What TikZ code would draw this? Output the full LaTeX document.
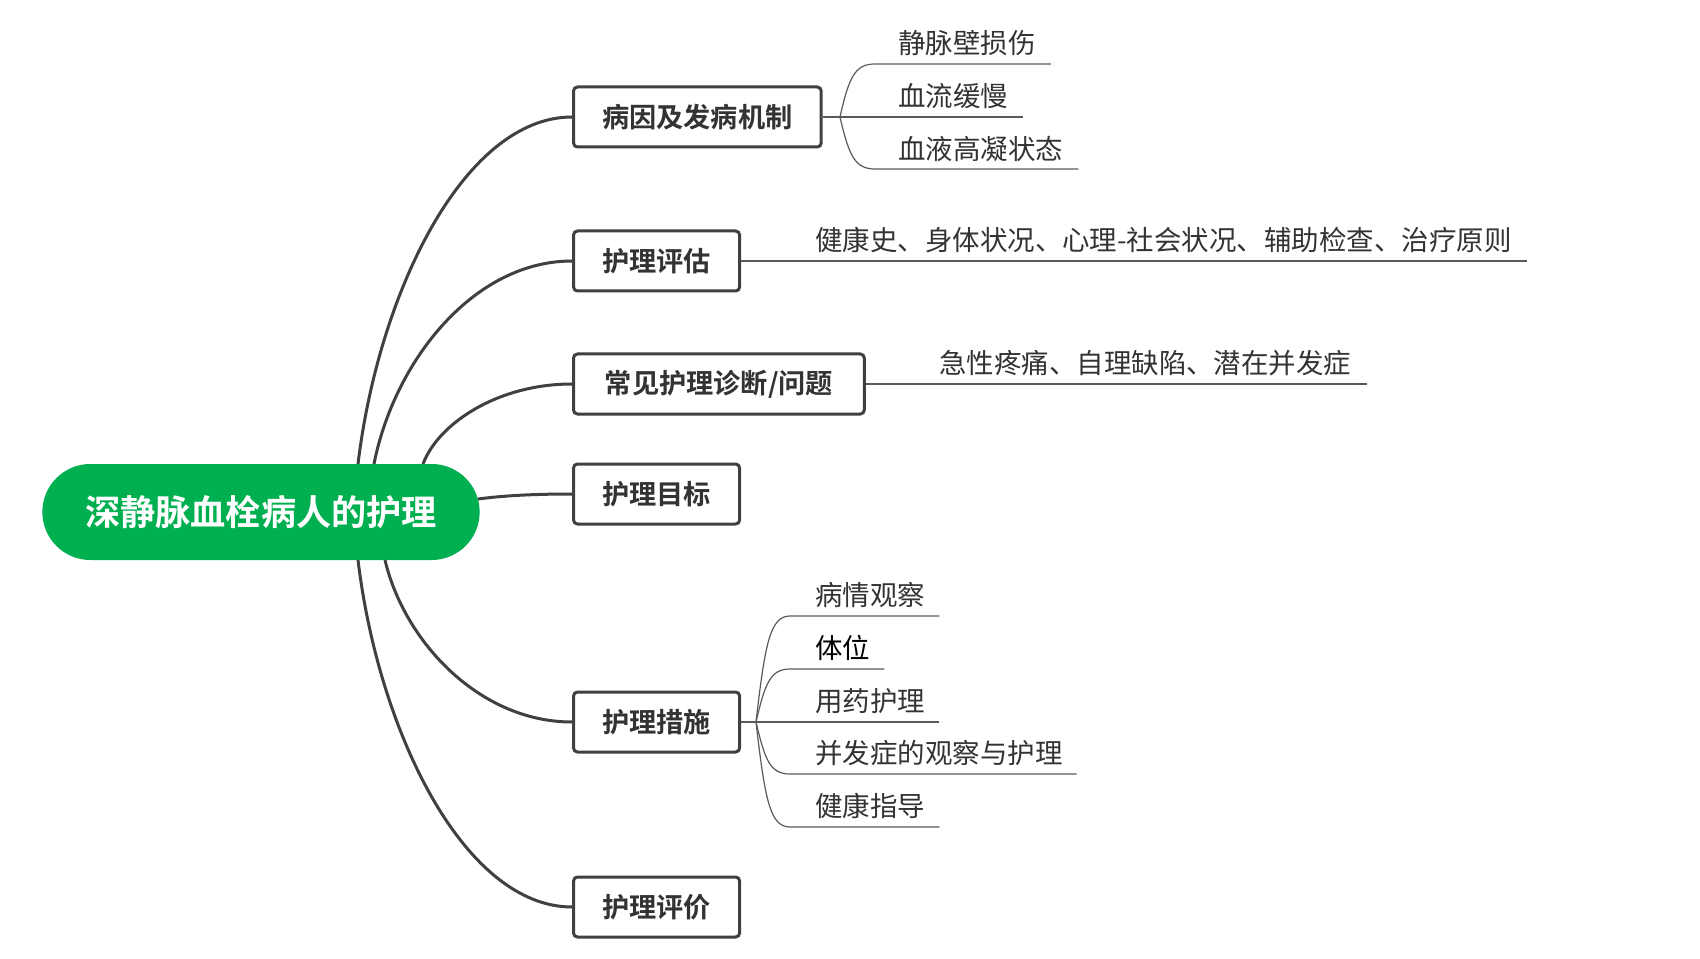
\documentclass[tikz,border=0pt]{standalone}
\usepackage{fontspec}
\newfontfamily\cjk{Noto Sans CJK SC}[BoldFont={Noto Sans CJK SC Bold}]
\usetikzlibrary{calc}
\definecolor{rootgreen}{RGB}{0,176,80}
\definecolor{linegray}{RGB}{64,64,64}
\definecolor{leafline}{RGB}{90,90,90}
\definecolor{txtgray}{RGB}{51,51,51}
\begin{document}
\begin{tikzpicture}[x=0.75pt,y=-0.75pt,
 rootnode/.style={fill=rootgreen, rounded corners=36pt, minimum width=328pt, minimum height=72pt, text=white, font=\cjk\bfseries\fontsize{26.4pt}{30pt}\selectfont, inner sep=0pt},
 branch/.style={draw=linegray, line width=2.25pt, rounded corners=3pt, fill=white, minimum height=45pt, inner xsep=21.5pt, inner ysep=0pt, font=\cjk\bfseries\fontsize{20.4pt}{24pt}\selectfont, text=txtgray, anchor=west},
 leaf/.style={inner sep=0pt, anchor=west, font=\cjk\fontsize{20.6pt}{24pt}\selectfont, text=txtgray},
 mainconn/.style={draw=linegray, line width=2.25pt},
 leafconn/.style={draw=leafline, line width=0.9pt},
]
\useasboundingbox (0,0) rectangle (1700,959);
\fill[white] (0,0) rectangle (1700,959);

% root and branches
\node[rootnode] (root) at (261,512) {深静脉血栓病人的护理};
\node[branch] (b1) at (572,117) {病因及发病机制};
\node[branch] (b2) at (572,261) {护理评估};
\node[branch, inner xsep=23.5pt] (b3) at (572,384) {常见护理诊断/问题};
\node[branch] (b4) at (572,494) {护理目标};
\node[branch] (b5) at (572,722) {护理措施};
\node[branch] (b6) at (572,907) {护理评价};

% connector start points on the root
\coordinate (s1) at (358,464);
\coordinate (s2) at (374,464);
\coordinate (s3) at (423,464);
\coordinate (s4) at (478,499);
\coordinate (s5) at (385,560);
\coordinate (s6) at (358,560);

\draw[mainconn] (s1) .. controls +(21,-174) and +(-107,0) .. (b1.west);
\draw[mainconn] (s2) .. controls +(20,-102) and +(-99,0) .. (b2.west);
\draw[mainconn] (s3) .. controls +(15,-40) and +(-75,0) .. (b3.west);
\draw[mainconn] (s4) .. controls +(30,-4) and +(-30,0) .. (b4.west);
\draw[mainconn] (s5) .. controls +(19,81) and +(-93,0) .. (b5.west);
\draw[mainconn] (s6) .. controls +(21,174) and +(-107,0) .. (b6.west);

% group 1
\coordinate (k1) at (840,117);
\node[leaf] (l11) at (898,43) {静脉壁损伤};
\node[leaf] (l12) at (898,96) {血流缓慢};
\node[leaf] (l13) at (898,149) {血液高凝状态};
\coordinate (u11) at (875,64);
\coordinate (u13) at (875,169);
\draw[leafconn] (b1.east) -- (k1);
\draw[leafconn] (k1) .. controls +(9,-40) and +(-20,0) .. (u11) -- ($(l11.east |- u11)+(15,0)$);
\draw[leafconn] (k1) -- ($(l12.east |- k1)+(15,0)$);
\draw[leafconn] (k1) .. controls +(9,39) and +(-20,0) .. (u13) -- ($(l13.east |- u13)+(15,0)$);

% group 2
\node[leaf] (l2) at (815,240) {健康史、身体状况、心理-社会状况、辅助检查、治疗原则};
\draw[leafconn] (b2.east) -- ($(l2.east |- b2.east)+(15,0)$);

% group 3
\node[leaf] (l3) at (939,363) {急性疼痛、自理缺陷、潜在并发症};
\draw[leafconn] (b3.east) -- ($(l3.east |- b3.east)+(15,0)$);

% group 5
\coordinate (k5) at (756,722);
\node[leaf] (l51) at (815,595) {病情观察};
\node[leaf,text=black] (l52) at (815,648) {体位};
\node[leaf] (l53) at (815,701) {用药护理};
\node[leaf] (l54) at (815,753) {并发症的观察与护理};
\node[leaf] (l55) at (815,806) {健康指导};
\coordinate (u51) at (790,616);
\coordinate (u52) at (790,669);
\coordinate (u54) at (790,774);
\coordinate (u55) at (790,827);
\draw[leafconn] (b5.east) -- (k5);
\draw[leafconn] (k5) .. controls +(9,-78) and +(-20,0) .. (u51) -- ($(l51.east |- u51)+(14,0)$);
\draw[leafconn] (k5) .. controls +(9,-38) and +(-20,0) .. (u52) -- ($(l52.east |- u52)+(14,0)$);
\draw[leafconn] (k5) -- ($(l53.east |- k5)+(14,0)$);
\draw[leafconn] (k5) .. controls +(9,38) and +(-20,0) .. (u54) -- ($(l54.east |- u54)+(14,0)$);
\draw[leafconn] (k5) .. controls +(9,78) and +(-20,0) .. (u55) -- ($(l55.east |- u55)+(14,0)$);
\end{tikzpicture}
\end{document}
